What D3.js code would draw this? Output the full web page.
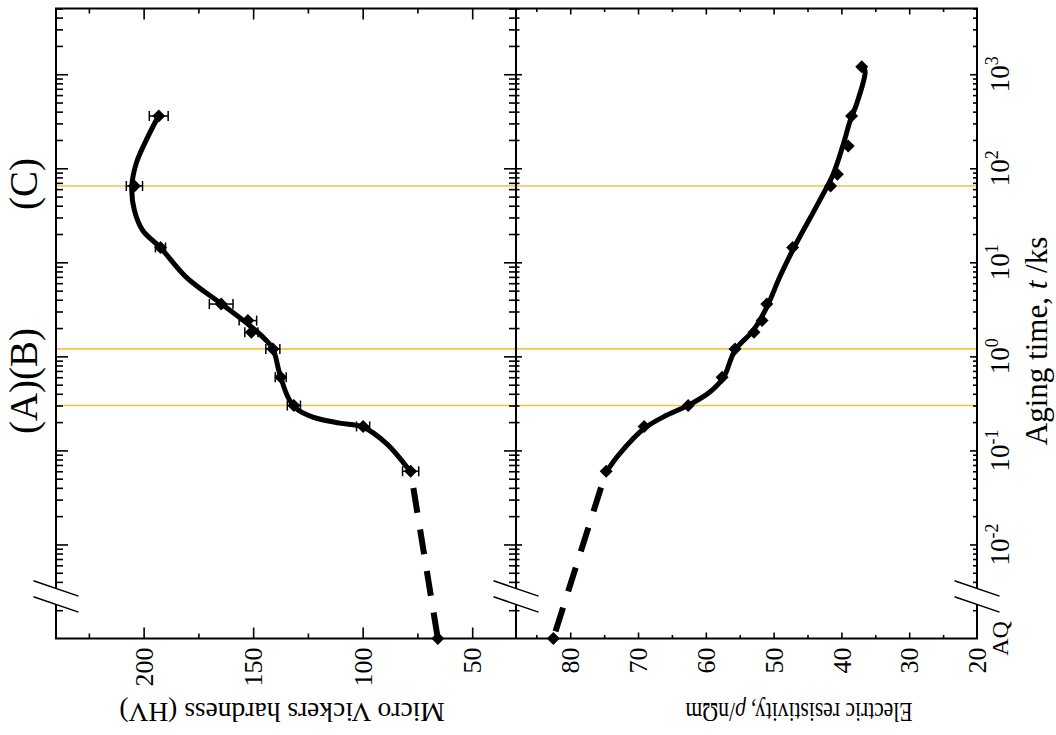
<!DOCTYPE html>
<html>
<head>
<meta charset="utf-8">
<script src="https://cdn.jsdelivr.net/npm/d3@7"></script>
<style>
  html, body { margin: 0; padding: 0; background: #fff; }
  svg { display: block; font-family: "Liberation Serif", "Times New Roman", serif; }
</style>
</head>
<body>
<svg id="chart" width="1056" height="735"></svg>
<script>
// Aging time in ks; the as-quenched (AQ) state sits on the axis origin.
const AQ_TIME = 0.001;

// Micro Vickers hardness measurements
const hvTime  = [0.06, 0.18, 0.3, 0.6, 1.2, 1.8, 2.4, 3.6, 14.4, 64.8, 360];
const hvValue = [78.1, 99.8, 131.4, 137.4, 141.0, 150.8, 152.4, 164.6, 192.3, 204.2, 193.1];
const hvError = [3.7, 3.0, 3.0, 2.5, 3.2, 3.0, 4.0, 5.4, 2.3, 3.7, 4.3];
const hvAQ = 65.7;

// Smooth trend line drawn through the hardness data
const hvFitTime  = [0.0589, 0.118, 0.177, 0.195, 0.226, 0.278, 0.369, 0.655, 1.21, 1.54, 2.13, 3.63, 6.97, 14.3, 21.8, 35.6, 63, 112, 197, 364];
const hvFitValue = [78.1, 89.1, 99.8, 110.5, 122.7, 130.3, 134.1, 137.9, 141.0, 144.8, 151.6, 164.6, 180.6, 192.3, 200.4, 204.2, 205.4, 203.4, 198.9, 193.1];

// Electric resistivity measurements
const rhoTime  = [0.06, 0.18, 0.3, 0.6, 1.2, 1.8, 2.4, 3.6, 14.4, 64.8, 86.4, 172.8, 360, 1200];
const rhoValue = [74.7, 69.1, 62.6, 57.6, 55.7, 52.9, 51.7, 51.0, 47.2, 41.6, 40.6, 39.0, 38.5, 37.0];
const rhoAQ = 82.5;

// Smooth trend line drawn through the resistivity data
const rhoFitTime  = [0.0589, 0.0925, 0.171, 0.236, 0.301, 0.418, 0.594, 1.16, 1.89, 3.34, 6.97, 13.4, 45.5, 87.1, 182, 322, 484, 1047, 1200];
const rhoFitValue = [74.7, 72.7, 69.1, 65.8, 62.6, 59.4, 57.4, 55.7, 53.0, 51.0, 49.1, 47.2, 43.2, 41.2, 39.7, 38.7, 37.75, 36.5, 36.7];

// Characteristic aging stages (A) 5 min, (B) 20 min, (C) 18 h
const stageTime = [0.3, 1.2, 64.8];

// Axis ticks
const hvMajor = [200, 150, 100, 50];
const hvMinor = [225, 175, 125, 75];
const rhoMajor = [80, 70, 60, 50, 40, 30, 20];
const rhoMinor = [85, 75, 65, 55, 45, 35, 25];
const timeLabelExp = [-2, -1, 0, 1, 2, 3];

// Frame geometry
const L = 56, M = 516, R = 977, T = 8.5, B = 638.5;

const svg = d3.select("#chart");

const y   = d3.scaleLog().domain([AQ_TIME, 5000]).range([B, T]);
const xH  = d3.scaleLinear().domain([240, 30]).range([L, M]);
const xR  = d3.scaleLinear().domain([88, 20]).range([M, R]);

const allTimeTicks = y.ticks().filter(t => t > AQ_TIME * 1.01 && Math.abs(t - 0.003) > 1e-9 && t <= 5000);
const timeMajor = allTimeTicks.filter(t => Math.abs(Math.log10(t) - Math.round(Math.log10(t))) < 1e-9);
const timeMinor = allTimeTicks.filter(t => !timeMajor.includes(t));

// Stage marker lines (behind everything else)
svg.append("g").selectAll("line").data(stageTime).join("line")
  .attr("x1", L).attr("x2", R)
  .attr("y1", d => y(d)).attr("y2", d => y(d))
  .attr("stroke", "#f5c243").attr("stroke-width", 1.6);

// Tick helper
function tickGroup(axis, tx, ty, values, size) {
  const g = svg.append("g").attr("transform", `translate(${tx},${ty})`)
    .call(axis.tickValues(values).tickSize(size).tickFormat(""));
  g.select(".domain").remove();
  g.selectAll(".tick line").attr("stroke", "#000").attr("stroke-width", 1.6);
  return g;
}

// Time ticks on the vertical axes
tickGroup(d3.axisRight(y), L, 0, timeMajor, 12);
tickGroup(d3.axisRight(y), L, 0, timeMinor, 7);
tickGroup(d3.axisLeft(y), M, 0, timeMajor, 12);
tickGroup(d3.axisLeft(y), M, 0, timeMinor, 7);
tickGroup(d3.axisRight(y), M, 0, timeMajor, 6);
tickGroup(d3.axisRight(y), M, 0, timeMinor, 3.5);
tickGroup(d3.axisLeft(y), R, 0, timeMajor, 7);
tickGroup(d3.axisLeft(y), R, 0, timeMinor, 4);

// Hardness ticks (top and bottom of the left panel)
tickGroup(d3.axisBottom(xH), 0, T, hvMajor, 11);
tickGroup(d3.axisBottom(xH), 0, T, hvMinor, 5);
tickGroup(d3.axisTop(xH), 0, B, hvMajor, 11);
tickGroup(d3.axisTop(xH), 0, B, hvMinor, 5);

// Resistivity ticks (top and bottom of the right panel)
tickGroup(d3.axisBottom(xR), 0, T, rhoMajor.filter(v => v > 20), 6);
tickGroup(d3.axisBottom(xR), 0, T, rhoMinor, 3.5);
tickGroup(d3.axisTop(xR), 0, B, rhoMajor.filter(v => v > 20), 6);
tickGroup(d3.axisTop(xR), 0, B, rhoMinor, 3.5);

// Frame
svg.append("rect").attr("x", L).attr("y", T).attr("width", R - L).attr("height", B - T)
  .attr("fill", "none").attr("stroke", "#000").attr("stroke-width", 2);
svg.append("line").attr("x1", M).attr("x2", M).attr("y1", T).attr("y2", B)
  .attr("stroke", "#000").attr("stroke-width", 2);

// Axis breaks between the AQ origin and the logarithmic range
const breakY = y(0.0028), breakGap = 8, breakHalf = 22.5, breakSlope = 0.34;
[L, M, R].forEach(ax => {
  const yl = (x, off) => breakY + off + (x - ax) * breakSlope;
  const w = 4;
  svg.append("path")
    .attr("d", `M${ax - w},${yl(ax - w, -breakGap)}L${ax + w},${yl(ax + w, -breakGap)}L${ax + w},${yl(ax + w, breakGap)}L${ax - w},${yl(ax - w, breakGap)}Z`)
    .attr("fill", "#fff");
  [-breakGap, breakGap].forEach(off => {
    svg.append("line")
      .attr("x1", ax - breakHalf).attr("y1", yl(ax - breakHalf, off))
      .attr("x2", ax + breakHalf).attr("y2", yl(ax + breakHalf, off))
      .attr("stroke", "#000").attr("stroke-width", 1.5);
  });
});

// Curves
const hvLine = d3.line().x(d => xH(d[1])).y(d => y(d[0])).curve(d3.curveCatmullRom.alpha(0.5));
const rhoLine = d3.line().x(d => xR(d[1])).y(d => y(d[0])).curve(d3.curveCatmullRom.alpha(0.5));
const straightH = d3.line().x(d => xH(d[1])).y(d => y(d[0]));
const straightR = d3.line().x(d => xR(d[1])).y(d => y(d[0]));

svg.append("path").attr("d", hvLine(hvFitTime.map((t, i) => [t, hvFitValue[i]])))
  .attr("fill", "none").attr("stroke", "#000").attr("stroke-width", 5);
svg.append("path").attr("d", rhoLine(rhoFitTime.map((t, i) => [t, rhoFitValue[i]])))
  .attr("fill", "none").attr("stroke", "#000").attr("stroke-width", 5);

// Dashed links from the first aged sample back to the as-quenched state
svg.append("path").attr("d", straightH([[hvTime[0], hvValue[0]], [AQ_TIME, hvAQ]]))
  .attr("fill", "none").attr("stroke", "#000").attr("stroke-width", 6)
  .attr("stroke-dasharray", "25 17").attr("stroke-dashoffset", 25);
svg.append("path").attr("d", straightR([[rhoTime[0], rhoValue[0]], [AQ_TIME, rhoAQ]]))
  .attr("fill", "none").attr("stroke", "#000").attr("stroke-width", 6)
  .attr("stroke-dasharray", "25 17").attr("stroke-dashoffset", 25);

// Hardness error bars
const eb = svg.append("g").attr("stroke", "#000").attr("stroke-width", 1.5);
hvTime.forEach((t, i) => {
  const yy = y(t), x1 = xH(hvValue[i] - hvError[i]), x2 = xH(hvValue[i] + hvError[i]);
  eb.append("line").attr("x1", x1).attr("x2", x2).attr("y1", yy).attr("y2", yy);
  eb.append("line").attr("x1", x1).attr("x2", x1).attr("y1", yy - 5).attr("y2", yy + 5);
  eb.append("line").attr("x1", x2).attr("x2", x2).attr("y1", yy - 5).attr("y2", yy + 5);
});

// Diamond markers
const s = 6.5;
const diamond = `M0,${-s}L${s},0L0,${s}L${-s},0Z`;
const hvPts = hvTime.map((t, i) => [t, hvValue[i]]).concat([[AQ_TIME, hvAQ]]);
const rhoPts = rhoTime.map((t, i) => [t, rhoValue[i]]).concat([[AQ_TIME, rhoAQ]]);
svg.append("g").selectAll("path").data(hvPts).join("path")
  .attr("d", diamond).attr("transform", d => `translate(${xH(d[1])},${y(d[0])})`).attr("fill", "#000");
svg.append("g").selectAll("path").data(rhoPts).join("path")
  .attr("d", diamond).attr("transform", d => `translate(${xR(d[1])},${y(d[0])})`).attr("fill", "#000");

// Hardness tick labels
svg.append("g").selectAll("text").data(hvMajor).join("text")
  .attr("transform", d => `translate(${xH(d)},${B + 9}) rotate(-90)`)
  .attr("text-anchor", "end").attr("dy", "0.35em")
  .style("font-size", "26px").text(d => d);

// Resistivity tick labels
svg.append("g").selectAll("text").data(rhoMajor).join("text")
  .attr("transform", d => `translate(${xR(d)},${B + 9}) rotate(-90)`)
  .attr("text-anchor", "end").attr("dy", "0.35em")
  .style("font-size", "26px").text(d => d);

// Time tick labels
const tl = svg.append("g").selectAll("text").data(timeLabelExp).join("text")
  .attr("transform", d => `translate(1009,${y(Math.pow(10, d))}) rotate(-90)`)
  .attr("text-anchor", "middle").style("font-size", "27px");
tl.append("tspan").text("10");
tl.append("tspan").attr("dy", -11).style("font-size", "18px").text(d => String(d));

svg.append("text")
  .attr("transform", `translate(1008,${y(AQ_TIME)}) rotate(-90)`)
  .attr("text-anchor", "middle").style("font-size", "24px").text("AQ");

// Axis titles
const tt = svg.append("text")
  .attr("transform", `translate(1047,341) rotate(-90)`)
  .attr("text-anchor", "middle").style("font-size", "31px");
tt.append("tspan").text("Aging time, ");
tt.append("tspan").style("font-style", "italic").text("t");
tt.append("tspan").text(" /ks");

svg.append("text")
  .attr("transform", `translate(282,703) rotate(180)`)
  .attr("text-anchor", "middle").style("font-size", "27.5px")
  .text("Micro Vickers hardness (HV)");

// Resistivity title, set in a horizontally condensed face
const rt = svg.append("text")
  .attr("transform", `translate(799,703) rotate(180) scale(0.8,1)`)
  .attr("text-anchor", "middle").style("font-size", "27px");
rt.append("tspan").text("Electric resistivity, ");
rt.append("tspan").style("font-style", "italic").text("ρ");
rt.append("tspan").text("/nΩm");

// Stage labels
svg.append("text")
  .attr("transform", `translate(37,${y(64.8) - 2}) rotate(-90)`)
  .attr("text-anchor", "middle").style("font-size", "39px").text("(C)");
svg.append("text")
  .attr("transform", `translate(37,381) rotate(-90)`)
  .attr("text-anchor", "middle").style("font-size", "39px").text("(A)(B)");
</script>
</body>
</html>
